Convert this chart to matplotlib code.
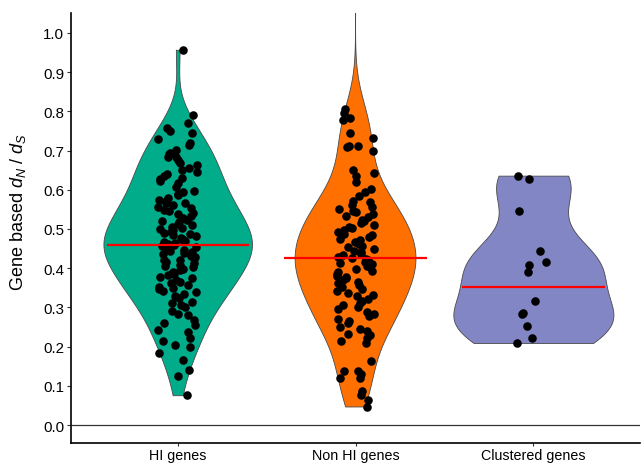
import numpy as np
import matplotlib
matplotlib.use("Agg")
import matplotlib.pyplot as plt

plt.rcParams['font.family'] = ['Liberation Sans', 'DejaVu Sans']
plt.rcParams['mathtext.fontset'] = 'custom'
plt.rcParams['mathtext.rm'] = 'Liberation Sans'
plt.rcParams['mathtext.it'] = 'Liberation Sans:italic'

categories = ["HI genes", "Non HI genes", "Clustered genes"]
colors = ["#00AC8A", "#FF7000", "#8386C5"]

hi_values = [0.957, 0.791, 0.771, 0.758, 0.751, 0.745, 0.730, 0.720, 0.715, 0.702,
             0.695, 0.690, 0.684, 0.684, 0.675, 0.669, 0.662, 0.656, 0.651, 0.645,
             0.639, 0.634, 0.631, 0.628, 0.622, 0.616,
             0.608, 0.598, 0.595, 0.590, 0.586, 0.578, 0.575, 0.571, 0.565, 0.565,
             0.561, 0.557, 0.553, 0.548, 0.546, 0.541, 0.538, 0.532, 0.529, 0.524,
             0.521, 0.517, 0.512, 0.510, 0.506, 0.502, 0.500, 0.497, 0.493, 0.490,
             0.487, 0.484, 0.481, 0.477, 0.475, 0.472, 0.469, 0.467, 0.464, 0.461,
             0.459, 0.456, 0.453, 0.451, 0.447, 0.444, 0.441, 0.438, 0.436, 0.432,
             0.429, 0.426, 0.422, 0.420, 0.416, 0.413, 0.409, 0.406, 0.402, 0.398,
             0.395, 0.390, 0.386, 0.383, 0.378, 0.374, 0.371, 0.366, 0.362, 0.358,
             0.353, 0.350, 0.346, 0.341, 0.338, 0.333, 0.330, 0.325, 0.315,
             0.310, 0.306, 0.300, 0.290, 0.284, 0.280, 0.268, 0.261,
             0.256, 0.243, 0.236, 0.221, 0.214, 0.204, 0.200,
             0.183, 0.165, 0.140, 0.125, 0.076]

nonhi_values = [0.807, 0.796, 0.784, 0.779, 0.746, 0.733, 0.712, 0.712, 0.709, 0.700,
                0.651, 0.644, 0.636, 0.621, 0.603, 0.595, 0.585, 0.572, 0.568, 0.561,
                0.556, 0.552, 0.546, 0.543, 0.539, 0.533, 0.530, 0.524, 0.520, 0.516,
                0.511, 0.505, 0.502, 0.498, 0.492, 0.488, 0.485, 0.479, 0.474, 0.471,
                0.466, 0.461, 0.457, 0.454, 0.449, 0.445, 0.440, 0.437, 0.433, 0.429,
                0.426, 0.423, 0.420, 0.416, 0.414, 0.410, 0.405, 0.402, 0.398, 0.394,
                0.391, 0.386, 0.381, 0.378, 0.374, 0.369, 0.366, 0.361, 0.357, 0.352,
                0.347, 0.343, 0.337, 0.332, 0.328, 0.321, 0.317, 0.311, 0.306, 0.300,
                0.295, 0.288, 0.282, 0.277, 0.270, 0.264, 0.259, 0.251, 0.246, 0.239,
                0.232, 0.229, 0.221, 0.214, 0.210, 0.163, 0.137, 0.137, 0.130, 0.120,
                0.120, 0.087, 0.076, 0.064, 0.046,
                1.22, 1.28, 1.35, 1.48, 1.60, 1.70, 1.85, 2.10, 2.40, 2.60,
                2.90, 3.50, 4.20, 5.00]

clustered_values = [0.636, 0.628, 0.547, 0.443, 0.415, 0.407, 0.389, 0.316, 0.282,
                    0.285, 0.252, 0.221, 0.209]

summary_values = [0.460, 0.425, 0.353]

groups = [hi_values, nonhi_values, clustered_values]
positions = [1, 2, 3]


def kde_nrd0(data, grid):
    data = np.asarray(data, float)
    n = len(data)
    sd = np.std(data, ddof=1)
    iqr = np.subtract(*np.percentile(data, [75, 25]))
    lo = min(sd, iqr / 1.34)
    bw = 0.9 * lo * n ** (-0.2)
    z = (grid[:, None] - data[None, :]) / bw
    return np.exp(-0.5 * z ** 2).sum(axis=1) / (n * bw * np.sqrt(2 * np.pi))


dens = []
for g in groups:
    grid = np.linspace(min(g), max(g), 2048)
    dens.append((grid, kde_nrd0(g, grid)))
gmax = max(d.max() for _, d in dens)

fig = plt.figure(figsize=(6.42, 4.64), dpi=100)
ax = fig.add_axes([0.1106, 0.043, 0.8864, 0.927])

for pos, (grid, d), col in zip(positions, dens, colors):
    half = 0.45 * d / gmax
    ax.fill_betweenx(grid, pos - half, pos + half, facecolor=col,
                     edgecolor="#4a4a4a", linewidth=0.6, zorder=2)

rng = np.random.default_rng(7)
for pos, g in zip(positions, groups):
    xj = pos + rng.uniform(-0.11, 0.11, len(g))
    ax.scatter(xj, g, s=38, color="black", zorder=3, linewidths=0)

for pos, m in zip(positions, summary_values):
    ax.plot([pos - 0.4, pos + 0.4], [m, m], color="#FF0000", lw=1.6, zorder=4,
            solid_capstyle="butt")

ax.axhline(0, color="#333333", lw=0.9, zorder=1)

ax.set_xlim(0.4, 3.6)
ax.set_ylim(-0.046, 1.051)
ax.set_xticks(positions)
ax.set_xticklabels(categories, fontsize=10.3, color="black")
ticks = np.arange(0, 1.01, 0.1)
ax.set_yticks(ticks)
ax.set_yticklabels([f"{v:.1f}" for v in ticks], fontsize=10.8, color="black")
ax.tick_params(length=3, width=0.8, color="#333333", pad=2)
ax.tick_params(axis="x", length=2.5, pad=1)
ax.set_ylabel("Gene based $d_N$ / $d_S$", fontsize=13)
ax.yaxis.set_label_coords(-0.076, 0.54)
for s in ["top", "right"]:
    ax.spines[s].set_visible(False)
for s in ["left", "bottom"]:
    ax.spines[s].set_linewidth(1.2)
    ax.spines[s].set_color("black")

fig.savefig("out.png", dpi=100)
